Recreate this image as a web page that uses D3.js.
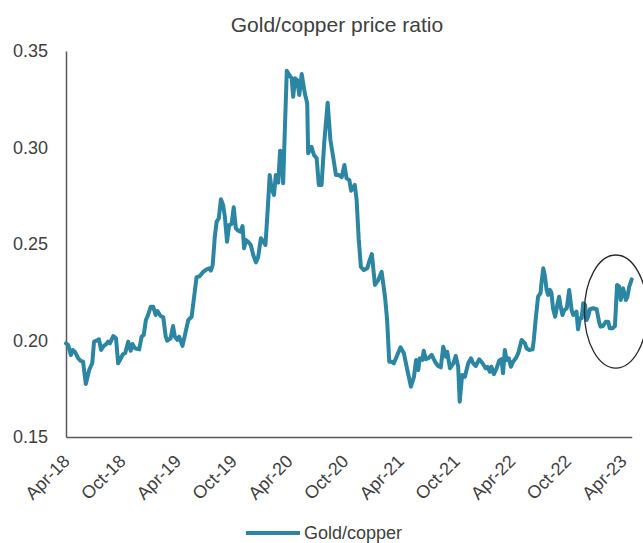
<!DOCTYPE html>
<html>
<head>
<meta charset="utf-8">
<script src="https://d3js.org/d3.v7.min.js"></script>
<style>
body { margin: 0; background: #fff; }
svg { display: block; font-family: "Liberation Sans", Arial, sans-serif; }
</style>
</head>
<body>
<div id="chart-area"></div>
<script>
/*
*    gold / copper ratio
*/

var title = "Gold/copper price ratio";
var seriesName = "Gold/copper";

var tickLabels = ["Apr-18", "Oct-18", "Apr-19", "Oct-19", "Apr-20", "Oct-20",
    "Apr-21", "Oct-21", "Apr-22", "Oct-22", "Apr-23"];
var yTicks = [0.15, 0.20, 0.25, 0.30, 0.35];

var dates = [
    "2018-04-01","2018-04-08","2018-04-17","2018-04-23","2018-04-30","2018-05-11","2018-05-19","2018-05-27",
    "2018-06-05","2018-06-16","2018-06-26","2018-07-02","2018-07-10","2018-07-18","2018-07-25","2018-08-03",
    "2018-08-12","2018-08-17","2018-08-23","2018-09-03","2018-09-12","2018-09-19","2018-09-28","2018-10-05",
    "2018-10-12","2018-10-22","2018-10-30","2018-11-05","2018-11-13","2018-11-27","2018-12-05","2018-12-12",
    "2018-12-19","2018-12-26",
    "2019-01-04","2019-01-12","2019-01-20","2019-01-26","2019-02-05","2019-02-14","2019-02-22","2019-02-27",
    "2019-03-10","2019-03-18","2019-03-24","2019-04-01","2019-04-07","2019-04-18","2019-05-07","2019-05-18",
    "2019-06-03","2019-06-14","2019-06-25","2019-07-06","2019-07-15","2019-07-20","2019-07-26","2019-08-02",
    "2019-08-08","2019-08-15","2019-08-22","2019-08-29","2019-09-04","2019-09-11","2019-09-18","2019-09-26",
    "2019-10-03","2019-10-10","2019-10-18","2019-10-25","2019-11-01","2019-11-06","2019-11-12","2019-11-19",
    "2019-11-28","2019-12-06","2019-12-15","2019-12-22","2019-12-31",
    "2020-01-08","2020-01-15","2020-01-22","2020-01-29","2020-02-04","2020-02-12","2020-02-18","2020-02-26",
    "2020-03-03","2020-03-08","2020-03-13","2020-03-19","2020-03-25","2020-04-02","2020-04-10","2020-04-15",
    "2020-04-21","2020-04-28","2020-05-05","2020-05-13","2020-05-23","2020-05-31","2020-06-03","2020-06-14",
    "2020-06-22","2020-07-01","2020-07-08","2020-07-17","2020-07-26","2020-08-06","2020-08-15","2020-08-24",
    "2020-09-02","2020-09-12","2020-09-21","2020-09-30","2020-10-07","2020-10-16","2020-10-22","2020-11-03",
    "2020-11-09","2020-11-16","2020-11-23","2020-12-03","2020-12-14","2020-12-20","2020-12-29",
    "2021-01-08","2021-01-19","2021-01-30","2021-02-10","2021-02-17","2021-02-24","2021-03-04","2021-03-11",
    "2021-03-20","2021-04-02","2021-04-13","2021-04-22","2021-05-06","2021-05-16","2021-05-23","2021-05-30",
    "2021-06-04","2021-06-12","2021-06-17","2021-06-24","2021-07-02","2021-07-13","2021-07-24","2021-08-03",
    "2021-08-12","2021-08-20","2021-08-29","2021-09-02","2021-09-11","2021-09-22","2021-09-30","2021-10-08",
    "2021-10-13","2021-10-21","2021-10-30","2021-11-10","2021-11-19","2021-11-26","2021-12-05","2021-12-16",
    "2021-12-27",
    "2022-01-06","2022-01-12","2022-01-20","2022-01-25","2022-02-02","2022-02-11","2022-02-19","2022-02-27",
    "2022-03-04","2022-03-10","2022-03-16","2022-03-23","2022-03-30","2022-04-06","2022-04-15","2022-04-23",
    "2022-05-04","2022-05-15","2022-05-20","2022-05-29","2022-06-09","2022-06-13","2022-06-20","2022-06-27",
    "2022-07-05","2022-07-08","2022-07-14","2022-07-19","2022-07-25","2022-07-30","2022-08-05","2022-08-10",
    "2022-08-15","2022-08-22","2022-08-29","2022-09-04","2022-09-09","2022-09-15","2022-09-21","2022-09-29",
    "2022-10-07","2022-10-15","2022-10-20","2022-10-31","2022-11-05","2022-11-11","2022-11-17","2022-11-22",
    "2022-11-28","2022-12-03","2022-12-08","2022-12-14","2022-12-25",
    "2023-01-05","2023-01-13","2023-01-18","2023-01-26","2023-02-04","2023-02-12","2023-02-17","2023-02-26",
    "2023-03-06","2023-03-13","2023-03-20","2023-03-25","2023-04-02","2023-04-11","2023-04-16","2023-04-22",
    "2023-04-30"
];

var ratio = [
    0.1985,0.1977,0.1925,0.1951,0.1942,0.1908,0.1894,0.1890,0.1775,0.1847,
    0.1882,0.1994,0.1999,0.2006,0.1951,0.1972,0.1982,0.1994,0.1985,0.2023,
    0.2011,0.1882,0.1908,0.1930,0.1934,0.1994,0.1947,0.1982,0.1960,0.1954,
    0.2020,0.2029,0.2106,0.2132,0.2175,0.2175,0.2132,0.2153,0.2127,0.2120,
    0.2020,0.1999,0.2011,0.2075,0.2020,0.2003,0.2020,0.1972,0.2106,0.2123,
    0.2327,0.2334,0.2356,0.2369,0.2374,0.2362,0.2391,0.2538,0.2616,0.2633,
    0.2732,0.2702,0.2641,0.2512,0.2598,0.2604,0.2690,0.2581,0.2569,0.2564,
    0.2593,0.2478,0.2521,0.2512,0.2495,0.2443,0.2405,0.2431,0.2530,0.2512,
    0.2495,0.2667,0.2858,0.2789,0.2754,0.2858,0.2818,0.2983,0.2978,0.2815,
    0.3108,0.3398,0.3376,0.3359,0.3263,0.3359,0.3350,0.3272,0.3381,0.3281,
    0.3229,0.2970,0.3004,0.2961,0.2944,0.2806,0.2806,0.3030,0.3232,0.3039,
    0.2952,0.2858,0.2858,0.2846,0.2909,0.2840,0.2832,0.2776,0.2806,0.2728,
    0.2521,0.2382,0.2365,0.2374,0.2408,0.2448,0.2288,0.2313,0.2356,0.2227,
    0.2106,0.1890,0.1890,0.1882,0.1916,0.1965,0.1934,0.1864,0.1761,0.1812,
    0.1899,0.1847,0.1908,0.1899,0.1947,0.1903,0.1908,0.1925,0.1890,0.1868,
    0.1861,0.1968,0.1916,0.1942,0.1856,0.1882,0.1920,0.1864,0.1683,0.1821,
    0.1812,0.1882,0.1908,0.1882,0.1868,0.1903,0.1882,0.1856,0.1864,0.1838,
    0.1864,0.1826,0.1856,0.1895,0.1903,0.1830,0.1951,0.1899,0.1908,0.1864,
    0.1890,0.1908,0.1934,0.2003,0.1985,0.1960,0.1951,0.1954,0.2003,0.2123,
    0.2227,0.2245,0.2296,0.2374,0.2339,0.2262,0.2236,0.2262,0.2245,0.2167,
    0.2123,0.2184,0.2227,0.2175,0.2132,0.2158,0.2167,0.2262,0.2158,0.2132,
    0.2149,0.2058,0.2115,0.2115,0.2193,0.2184,0.2106,0.2123,0.2162,0.2167,
    0.2162,0.2097,0.2072,0.2075,0.2097,0.2097,0.2063,0.2063,0.2075,0.2288,
    0.2279,0.2210,0.2270,0.2210,0.2227,0.2279,0.2317
];

var margin = {top: 51, right: 11.3, bottom: 106, left: 66};
var W = 643, H = 543;
var w = W - margin.left - margin.right;
var h = H - margin.top - margin.bottom;

var parseDate = d3.timeParse("%Y-%m-%d");
var parseTick = d3.timeParse("%b-%y");

var data = dates.map((d, i) => { return {date: parseDate(d), value: ratio[i]}; });
var tickDates = tickLabels.map((t) => { return parseTick(t); });

var svg = d3.select("#chart-area").append("svg")
    .attr("width", W)
    .attr("height", H);

var g = svg.append("g")
    .attr("transform", "translate(" + margin.left + ", " + margin.top + ")");

var x = d3.scaleTime()
    .domain(d3.extent(data, (d) => { return d.date; }))
    .range([0, w]);

var y = d3.scaleLinear()
    .domain([yTicks[0], yTicks[yTicks.length - 1]])
    .range([h, 0]);

var axisColor = "#595959";
var textColor = "#404040";

// y axis
var yAxis = g.append("g")
    .attr("class", "y axis")
    .call(d3.axisLeft(y)
        .tickValues(yTicks)
        .tickSize(0)
        .tickPadding(18)
        .tickFormat(d3.format(".2f")));

yAxis.select(".domain").attr("stroke", axisColor).attr("stroke-width", 1.5);
yAxis.selectAll("text")
    .attr("font-size", "18px")
    .attr("fill", textColor);

// x axis
var xAxis = g.append("g")
    .attr("class", "x axis")
    .attr("transform", "translate(0, " + h + ")")
    .call(d3.axisBottom(x)
        .tickValues(tickDates)
        .tickSize(0)
        .tickFormat((d, i) => { return tickLabels[i]; }));

xAxis.select(".domain").attr("stroke", axisColor).attr("stroke-width", 1.5);
xAxis.selectAll("text")
    .attr("font-size", "18px")
    .attr("fill", textColor)
    .attr("text-anchor", "end")
    .attr("x", 0)
    .attr("y", 21)
    .attr("dy", "0.35em")
    .attr("transform", "rotate(-45, 0, 21)");

// series line
var line = d3.line()
    .x((d) => { return x(d.date); })
    .y((d) => { return y(d.value); });

g.append("path")
    .datum(data)
    .attr("fill", "none")
    .attr("stroke", "#2b86a3")
    .attr("stroke-width", 4)
    .attr("stroke-linejoin", "round")
    .attr("stroke-linecap", "round")
    .attr("d", line);

// highlight ring round the last weeks
var ringDate = parseDate("2023-03-09");
g.append("ellipse")
    .attr("cx", x(ringDate))
    .attr("cy", y(0.215))
    .attr("rx", x(d3.timeDay.offset(ringDate, 103)) - x(ringDate))
    .attr("ry", y(0.215) - y(0.2443))
    .attr("fill", "none")
    .attr("stroke", "#262626")
    .attr("stroke-width", 1.3);

// title
svg.append("text")
    .attr("x", 337)
    .attr("y", 32)
    .attr("text-anchor", "middle")
    .attr("font-size", "21px")
    .attr("fill", textColor)
    .text(title);

// legend
var legend = svg.append("g")
    .attr("transform", "translate(246, 533)");

legend.append("line")
    .attr("x1", 0)
    .attr("x2", 54)
    .attr("stroke", "#2b86a3")
    .attr("stroke-width", 4);

legend.append("text")
    .attr("x", 58)
    .attr("dy", "0.35em")
    .attr("font-size", "18px")
    .attr("fill", textColor)
    .text(seriesName);
</script>
</body>
</html>
